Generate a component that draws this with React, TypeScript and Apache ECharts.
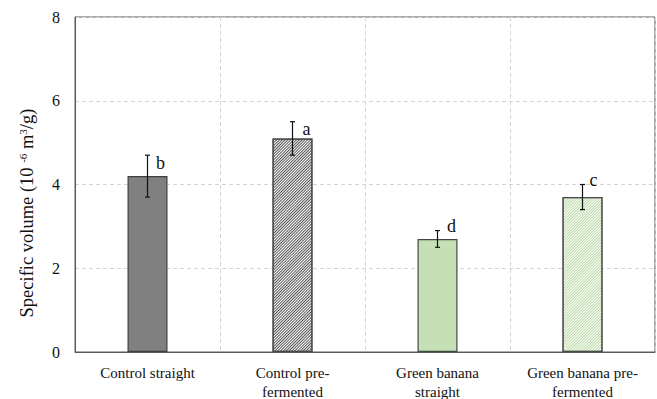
import React, { useEffect, useRef } from "react";
import * as echarts from "echarts";

const categories = ["Control straight", "Control pre-\nfermented", "Green banana\nstraight", "Green banana pre-\nfermented"];
const means = [4.2, 5.1, 2.7, 3.7];
const errors = [0.5, 0.4, 0.2, 0.3];
const letters = ["b", "a", "d", "c"];
const yTicks = { min: 0, max: 8, interval: 2 };

// letter offsets from the error-bar top, in pixels (layout only)
const letterOffsets: [number, number][] = [[13, 8], [14, 7], [14, -5], [11, -5]];

const FONT = "Liberation Serif";

export default function App() {
  const ref = useRef<HTMLDivElement>(null);
  useEffect(() => {
    if (!ref.current) return;
    const chart = echarts.init(ref.current, null, { renderer: "svg" });
    const hatch = (color: string) => ({
      symbol: "rect", symbolSize: 1, dashArrayX: [1, 0], dashArrayY: [1, 1], rotation: -Math.PI / 4, color,
    });
    const barStyles = [
      { color: "#808080", borderColor: "#3f3f3f", borderWidth: 1.2 },
      { color: "#ffffff", borderColor: "#4a4a4a", borderWidth: 1.2, decal: hatch("#555555") },
      { color: "#c5e0b4", borderColor: "#3f4a3f", borderWidth: 1.2 },
      { color: "#ffffff", borderColor: "#4a4a4a", borderWidth: 1.2, decal: hatch("#b9d8a4") },
    ];
    chart.setOption({
      animation: false,
      textStyle: { fontFamily: FONT },
      grid: { left: 75, right: 2, top: 17, bottom: 47, show: true, borderColor: "#5a5a5a", borderWidth: 1 },
      xAxis: {
        type: "category",
        data: categories,
        axisLine: { lineStyle: { color: "#5a5a5a", width: 1 } },
        axisTick: { show: false },
        axisLabel: {
          interval: 0,
          margin: 11,
          formatter: (v: string) => v.split("\n").map((s) => `{t|${s}}`).join("\n"),
          rich: { t: { fontFamily: FONT, fontSize: 15, color: "#111", lineHeight: 19 } },
        },
        splitLine: { show: true, lineStyle: { color: "#d4d4d4", type: [4, 3], width: 1 } },
      },
      yAxis: {
        type: "value",
        min: yTicks.min,
        max: yTicks.max,
        interval: yTicks.interval,
        axisLine: { show: true, lineStyle: { color: "#5a5a5a", width: 1 } },
        axisTick: { show: false },
        axisLabel: {
          margin: 15,
          formatter: (v: number) => `{t|${v}}`,
          rich: { t: { fontFamily: FONT, fontSize: 16, color: "#111" } },
        },
        splitLine: { show: true, lineStyle: { color: "#d4d4d4", type: [4, 3], width: 1 } },
      },
      graphic: [
        {
          type: "text",
          x: 27,
          y: 213,
          rotation: Math.PI / 2,
          style: {
            text: "{n|Specific volume (10 }{s|-6}{n| m}{s|3}{n|/g)}",
            align: "center",
            verticalAlign: "middle",
            rich: {
              n: { fontFamily: FONT, fontSize: 18.5, fill: "#111" },
              s: { fontFamily: FONT, fontSize: 11, fill: "#111", verticalAlign: "top", padding: [0, 0, 8, 0] },
            },
          },
        },
      ],
      series: [
        {
          type: "bar",
          barWidth: 40,
          data: means.map((v, i) => ({ value: v, itemStyle: barStyles[i] })),
        },
        {
          type: "custom",
          data: means.map((m, i) => [i, m, errors[i]]),
          renderItem: (params: any, api: any) => {
            const i = api.value(0);
            const m = api.value(1);
            const e = api.value(2);
            const top = api.coord([i, m + e]);
            const bot = api.coord([i, m - e]);
            const cap = 2.5;
            const ls = { stroke: "#111", lineWidth: 1.2 };
            const off = letterOffsets[params.dataIndex];
            return {
              type: "group",
              children: [
                { type: "line", shape: { x1: top[0], y1: top[1], x2: bot[0], y2: bot[1] }, style: ls },
                { type: "line", shape: { x1: top[0] - cap, y1: top[1], x2: top[0] + cap, y2: top[1] }, style: ls },
                { type: "line", shape: { x1: bot[0] - cap, y1: bot[1], x2: bot[0] + cap, y2: bot[1] }, style: ls },
                {
                  type: "text",
                  x: top[0] + off[0],
                  y: top[1] + off[1],
                  style: {
                    text: letters[params.dataIndex],
                    fontFamily: FONT,
                    fontSize: 18,
                    fill: "#111",
                    align: "center",
                    verticalAlign: "middle",
                  },
                },
              ],
            };
          },
          z: 5,
        },
      ],
    });
    return () => chart.dispose();
  }, []);
  return <div ref={ref} style={{ width: 657, height: 399, position: "absolute", left: 0, top: 0 }} />;
}
